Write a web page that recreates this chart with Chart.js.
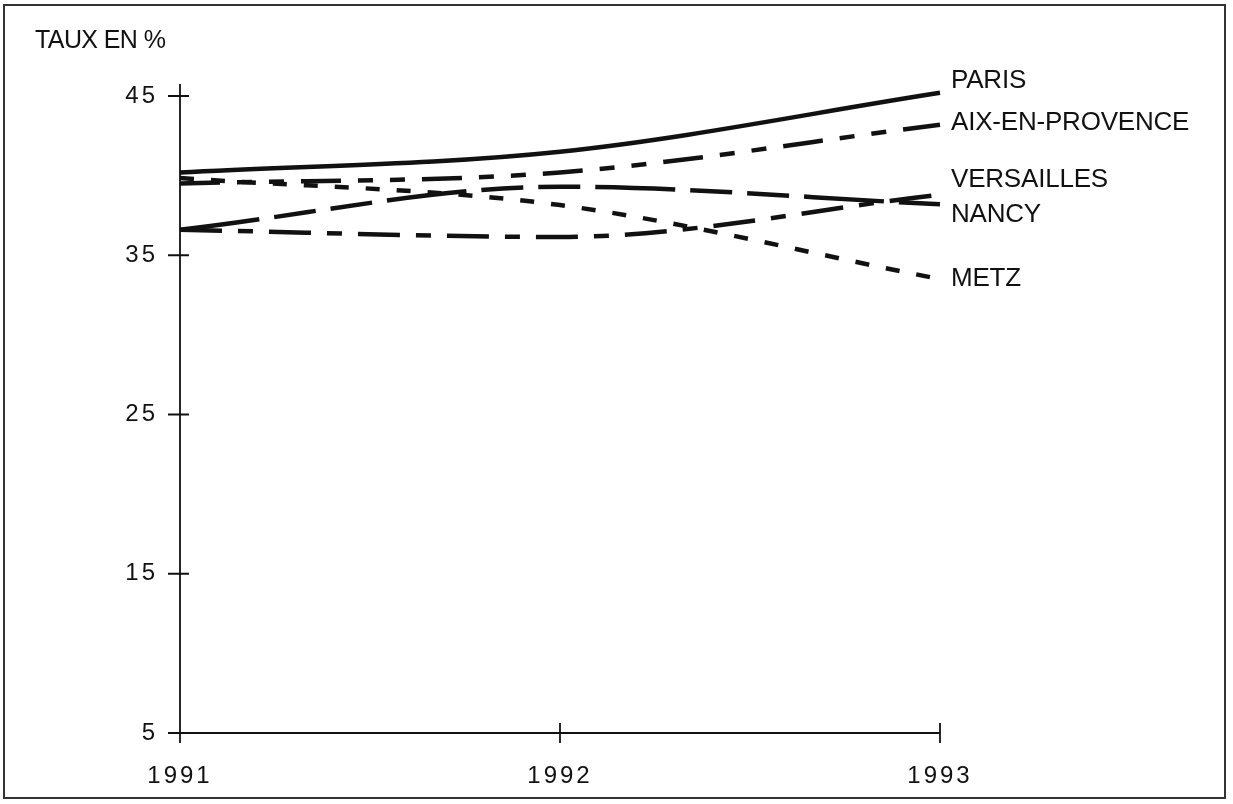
<!DOCTYPE html>
<html>
<head>
<meta charset="utf-8">
<script src="https://cdn.jsdelivr.net/npm/chart.js@4/dist/chart.umd.min.js"></script>
<style>
html, body { margin:0; padding:0; background:#fff; }
#wrap { position:relative; width:1233px; height:804px; }
</style>
</head>
<body>
<div id="wrap"><canvas id="chart" width="1233" height="804"></canvas></div>
<script>
// DATA
const years = ['1991', '1992', '1993'];
const yTicks = [5, 15, 25, 35, 45];
const paris = [40.2, 41.5, 45.2];
const aix = [39.5, 40.2, 43.2];
const versailles = [36.6, 36.15, 38.8];
const nancy = [36.6, 39.3, 38.2];
const metz = [39.85, 38.15, 33.5];
const cityNames = ['PARIS', 'AIX-EN-PROVENCE', 'VERSAILLES', 'NANCY', 'METZ'];
const labelLevels = [45.95, 43.3, 39.75, 37.55, 33.5];

const INK = '#111';
const FONT = '"Liberation Sans", Arial, sans-serif';

function series(label, data, dash) {
    return {
        label: label,
        data: data,
        borderColor: INK,
        borderWidth: 4.5,
        borderDash: dash,
        borderCapStyle: 'butt',
        pointRadius: 0,
        cubicInterpolationMode: 'monotone',
        fill: false,
        clip: false
    };
}

// frame, axes with crossing ticks, title and the end labels
const paperPlugin = {
    id: 'paper',
    beforeDraw(chart) {
        chart.ctx.letterSpacing = '3px';
    },
    beforeDatasetsDraw(chart) {
        const ctx = chart.ctx;
        const x = chart.scales.x, y = chart.scales.y;
        const ax = x.getPixelForValue(0);
        const ay = y.getPixelForValue(5);
        ctx.save();
        ctx.strokeStyle = INK;
        ctx.lineWidth = 1.8;
        ctx.beginPath();
        ctx.moveTo(ax, y.getPixelForValue(45) - 12);
        ctx.lineTo(ax, ay + 10);
        ctx.moveTo(ax, ay);
        ctx.lineTo(x.getPixelForValue(2), ay);
        yTicks.forEach(v => {
            const py = y.getPixelForValue(v);
            ctx.moveTo(ax - 12, py);
            ctx.lineTo(ax + 9, py);
        });
        [1, 2].forEach(i => {
            const px = x.getPixelForValue(i);
            ctx.moveTo(px, ay - 10);
            ctx.lineTo(px, ay + 10);
        });
        ctx.stroke();
        ctx.restore();
    },
    afterDraw(chart) {
        const ctx = chart.ctx;
        const x = chart.scales.x, y = chart.scales.y;
        ctx.save();
        ctx.letterSpacing = '0px';
        // paper border
        ctx.strokeStyle = '#333';
        ctx.lineWidth = 2;
        ctx.strokeRect(4, 5, 1221, 793);

        ctx.fillStyle = INK;
        ctx.textBaseline = 'middle';
        ctx.textAlign = 'left';
        ctx.font = '25px ' + FONT;
        ctx.letterSpacing = '-0.6px';
        ctx.fillText('TAUX EN %', 35, 41);

        ctx.font = '26px ' + FONT;
        ctx.letterSpacing = '-0.2px';
        const lx = x.getPixelForValue(2) + 11;
        cityNames.forEach((name, i) => {
            ctx.fillText(name, lx, y.getPixelForValue(labelLevels[i]));
        });
        ctx.restore();
    }
};

const ctx = document.getElementById('chart');
new Chart(ctx, {
    type: 'line',
    data: {
        labels: years,
        datasets: [
            series('PARIS', paris, []),
            series('AIX-EN-PROVENCE', aix, [40, 17, 15, 17, 15, 17]),
            series('VERSAILLES', versailles, [42, 16, 15, 16]),
            series('NANCY', nancy, [80, 15, 42, 15, 42, 15]),
            series('METZ', metz, [14, 17])
        ]
    },
    options: {
        responsive: false,
        animation: false,
        devicePixelRatio: 1,
        layout: { padding: { left: 0, top: 96, right: 293, bottom: 0 } },
        plugins: {
            legend: { display: false },
            tooltip: { enabled: false }
        },
        scales: {
            x: {
                type: 'category',
                offset: false,
                grid: { display: false, drawTicks: false },
                border: { display: false },
                ticks: {
                    color: INK,
                    font: { family: FONT, size: 24 },
                    padding: 29,
                    maxRotation: 0
                },
                afterFit(scale) { scale.height = 71; }
            },
            y: {
                min: 5,
                max: 45,
                grid: { display: false, drawTicks: false },
                border: { display: false },
                afterBuildTicks(scale) {
                    scale.ticks = yTicks.map(v => ({ value: v }));
                },
                ticks: {
                    color: INK,
                    font: { family: FONT, size: 24 },
                    padding: 22
                },
                afterFit(scale) { scale.width = 180; }
            }
        }
    },
    plugins: [paperPlugin]
});
</script>
</body>
</html>
